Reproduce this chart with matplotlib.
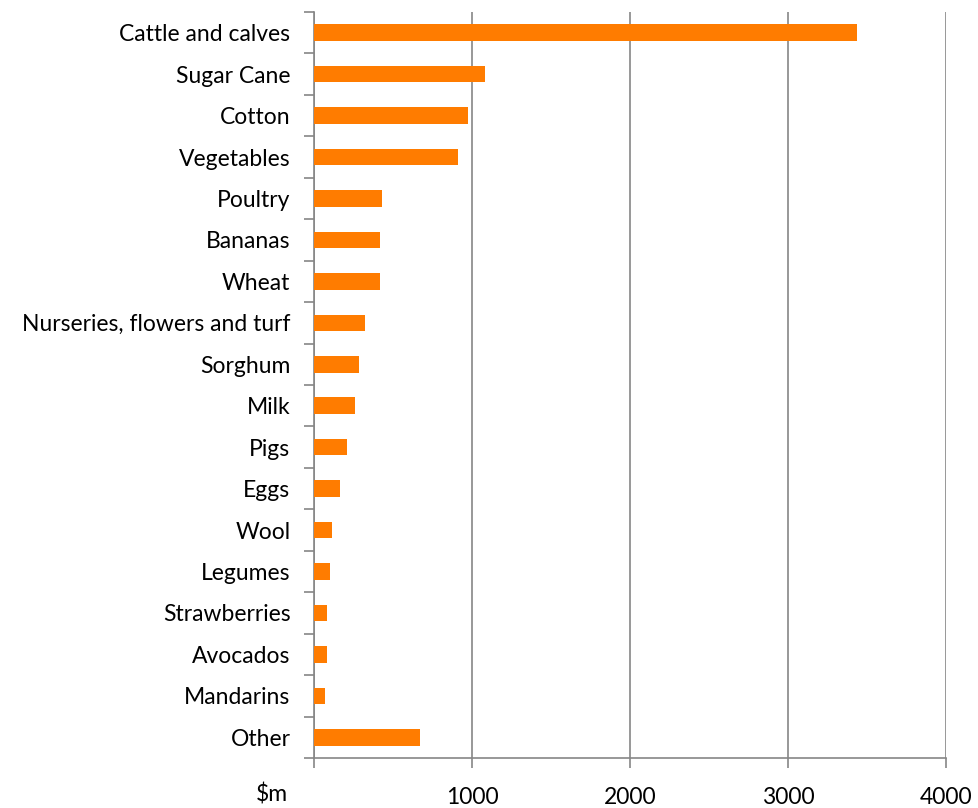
import matplotlib.pyplot as plt
import numpy as np

# Gross value of production, $m
categories = ["Cattle and calves", "Sugar Cane", "Cotton", "Vegetables", "Poultry",
              "Bananas", "Wheat", "Nurseries, flowers and turf", "Sorghum", "Milk",
              "Pigs", "Eggs", "Wool", "Legumes", "Strawberries", "Avocados",
              "Mandarins", "Other"]
values = [3434, 1082, 975, 912, 430, 417, 417, 321, 285, 260,
          212, 164, 113, 103, 80, 80, 67, 669]
xticks = [0, 1000, 2000, 3000, 4000]
xticklabels = ["", "1000", "2000", "3000", "4000"]

plt.rcParams["font.family"] = ["Lato", "DejaVu Sans"]
grey = "#868686"

fig = plt.figure(figsize=(9.79, 8.08), dpi=100)
ax = fig.add_axes([314 / 979, 1 - 758 / 808, (946 - 314) / 979, (758 - 12) / 808])

y = np.arange(len(categories))
ax.barh(y, values, height=0.4, color="#FF7C00", zorder=3)

ax.set_ylim(len(categories) - 0.5, -0.5)
ax.set_xlim(0, 4000)
ax.set_yticks(y)
ax.set_yticklabels(categories, fontsize=16.5)
ax.set_yticks(np.arange(len(categories) + 1) - 0.5, minor=True)
ax.tick_params(axis="y", which="major", length=0, pad=17)
ax.tick_params(axis="y", which="minor", length=7, width=1.2, color=grey, direction="out")

ax.set_xticks(xticks)
ax.set_xticklabels(xticklabels, fontsize=16.5)
ax.tick_params(axis="x", length=7, width=1.2, color=grey, direction="out", pad=14)

ax.grid(axis="x", color=grey, linewidth=1.2, zorder=0)
for side in ["top", "right"]:
    ax.spines[side].set_visible(False)
for side in ["left", "bottom"]:
    ax.spines[side].set_color(grey)
    ax.spines[side].set_linewidth(1.2)

fig.text(272 / 979, 1 - 795 / 808, "$m", fontsize=16.5, ha="center", va="center")

fig.savefig("out.png", dpi=100)
